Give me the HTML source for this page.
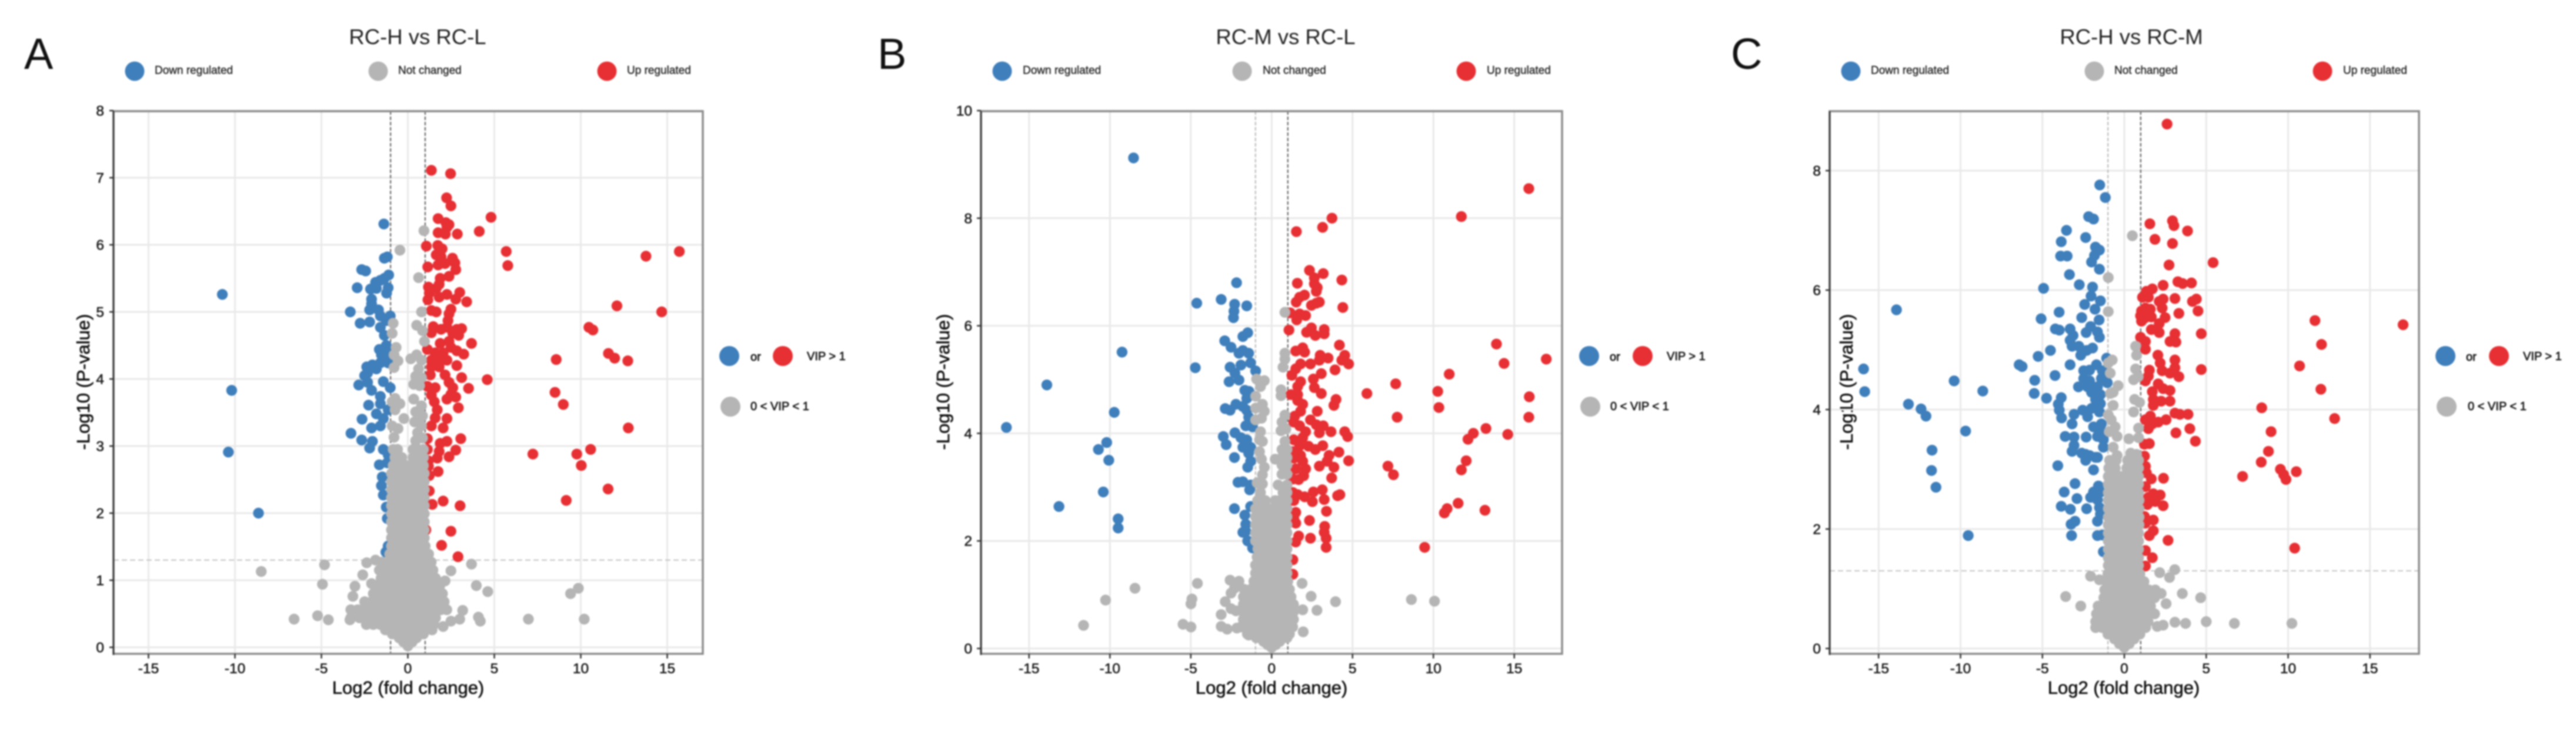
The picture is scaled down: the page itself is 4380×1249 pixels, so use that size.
<!DOCTYPE html>
<html lang="en">
<head>
<meta charset="utf-8">
<title>Volcano plots</title>
<style>
html,body{margin:0;padding:0;background:#fff;width:4380px;height:1249px;overflow:hidden}
svg{display:block;filter:blur(1.4px)}
text{font-family:"Liberation Sans",sans-serif;fill:#1c1c1c}
.t{font-size:36.5px;text-anchor:middle;fill:#222}
.l{font-size:74px;fill:#111}
.k{font-size:19px;stroke:#2a2a2a;stroke-width:.45px;dominant-baseline:central;fill:#2a2a2a}
.r{font-size:20px;stroke:#222;stroke-width:.8px;dominant-baseline:central}
.a{font-size:31px;text-anchor:middle;stroke:#111;stroke-width:.6px;fill:#111}
</style>
</head>
<body>
<svg xmlns="http://www.w3.org/2000/svg" width="4380" height="1249" viewBox="0 0 4380 1249">
<rect width="4380" height="1249" fill="#fff"/>

<g>
<text class="l" x="41" y="117">A</text>
<text class="t" x="710" y="75">RC-H vs RC-L</text>
<circle cx="229" cy="121" r="16.5" fill="#3f7fbb"/>
<text class="k" x="263" y="120">Down regulated</text>
<circle cx="643" cy="121" r="16.5" fill="#b5b5b5"/>
<text class="k" x="677" y="120">Not changed</text>
<circle cx="1032" cy="121" r="16.5" fill="#e63034"/>
<text class="k" x="1066" y="120">Up regulated</text>
<circle cx="1240" cy="605" r="17" fill="#3f7fbb"/>
<text class="r" x="1276" y="607">or</text>
<circle cx="1331" cy="605" r="17" fill="#e63034"/>
<text class="r" x="1372" y="606">VIP &gt; 1</text>
<circle cx="1242" cy="691" r="17" fill="#b5b5b5"/>
<text class="r" x="1276" y="691">0 &lt; VIP &lt; 1</text>
<text class="a" x="694" y="1179">Log2 (fold change)</text>
<text class="a" transform="translate(152,649) rotate(-90)">-Log10 (P-value)</text>
</g>

<g>
<text class="l" x="1492" y="117">B</text>
<text class="t" x="2186" y="75">RC-M vs RC-L</text>
<circle cx="1704" cy="121" r="16.5" fill="#3f7fbb"/>
<text class="k" x="1739" y="120">Down regulated</text>
<circle cx="2112" cy="121" r="16.5" fill="#b5b5b5"/>
<text class="k" x="2147" y="120">Not changed</text>
<circle cx="2493" cy="121" r="16.5" fill="#e63034"/>
<text class="k" x="2528" y="120">Up regulated</text>
<circle cx="2702" cy="605" r="17" fill="#3f7fbb"/>
<text class="r" x="2737" y="607">or</text>
<circle cx="2793" cy="605" r="17" fill="#e63034"/>
<text class="r" x="2834" y="606">VIP &gt; 1</text>
<circle cx="2704" cy="691" r="17" fill="#b5b5b5"/>
<text class="r" x="2738" y="691">0 &lt; VIP &lt; 1</text>
<text class="a" x="2162" y="1179">Log2 (fold change)</text>
<text class="a" transform="translate(1614,649) rotate(-90)">-Log10 (P-value)</text>
</g>

<g>
<text class="l" x="2943" y="117">C</text>
<text class="t" x="3624" y="75">RC-H vs RC-M</text>
<circle cx="3147" cy="121" r="16.5" fill="#3f7fbb"/>
<text class="k" x="3181" y="120">Down regulated</text>
<circle cx="3561" cy="121" r="16.5" fill="#b5b5b5"/>
<text class="k" x="3595" y="120">Not changed</text>
<circle cx="3949" cy="121" r="16.5" fill="#e63034"/>
<text class="k" x="3984" y="120">Up regulated</text>
<circle cx="4158" cy="605" r="17" fill="#3f7fbb"/>
<text class="r" x="4193" y="607">or</text>
<circle cx="4249" cy="605" r="17" fill="#e63034"/>
<text class="r" x="4290" y="606">VIP &gt; 1</text>
<circle cx="4160" cy="691" r="17" fill="#b5b5b5"/>
<text class="r" x="4196" y="691">0 &lt; VIP &lt; 1</text>
<text class="a" x="3611" y="1179">Log2 (fold change)</text>
<text class="a" transform="translate(3150,649) rotate(-90)">-Log10 (P-value)</text>
</g>

<g id="chart-a"></g>
<g id="chart-b"></g>
<g id="chart-c"></g>
</svg>

<script>
// Shared tick labels
const xTickValues = [-15,-10,-5,0,5,10,15];
const yTicksA = [0,1,2,3,4,5,6,7,8];
const yTicksB = [0,2,4,6,8,10];
const yTicksC = [0,2,4,6,8];

// Panel A: [log2FC, -log10 p]
const downA = [[-10.73,5.26],[-10.19,3.83],[-10.38,2.91],[-8.64,2.0],[-1.39,6.31],[-1.19,5.82],[-1.36,5.8],[-2.67,5.63],[-2.44,5.61],[-1.11,5.55],[-1.36,5.5],[-1.59,5.47],[-1.87,5.44],[-2.93,5.36],[-2.16,5.34],[-1.82,5.35],[-1.14,5.36],[-1.23,5.28],[-2.1,5.19],[-2.1,5.12],[-2.21,5.03],[-3.33,5.0],[-1.7,5.03],[-1.59,4.94],[-1.02,4.94],[-2.21,4.85],[-2.76,4.83],[-1.25,4.87],[-1.59,4.77],[-1.36,4.65],[-1.25,4.5],[-1.65,4.44],[-1.14,4.44],[-1.53,4.36],[-1.25,4.33],[-1.14,4.24],[-1.59,4.24],[-2.05,4.21],[-2.38,4.18],[-1.82,4.15],[-2.33,4.09],[-2.5,4.05],[-2.84,3.91],[-2.33,3.95],[-2.1,3.83],[-1.42,3.96],[-1.02,3.87],[-1.59,3.74],[-2.27,3.61],[-1.59,3.63],[-1.82,3.48],[-1.14,3.54],[-2.65,3.4],[-1.42,3.41],[-2.1,3.27],[-1.59,3.3],[-3.29,3.19],[-2.67,3.09],[-2.05,3.07],[-2.21,2.97],[-1.42,2.95],[-1.14,2.87],[-1.65,2.72],[-1.19,2.75],[-1.48,2.54],[-1.53,2.41],[-1.42,2.27],[-1.25,2.09],[-1.19,1.92],[-1.14,1.51],[-1.27,1.42]];
const upA = [[1.36,7.11],[2.47,7.06],[2.24,6.7],[2.49,6.58],[4.81,6.41],[1.75,6.39],[2.2,6.33],[2.38,6.3],[2.26,6.26],[4.13,6.2],[1.75,6.18],[2.17,6.16],[2.86,6.16],[1.07,5.98],[1.73,5.99],[1.98,5.94],[1.64,5.85],[1.92,5.82],[5.69,5.9],[5.78,5.69],[2.58,5.8],[2.72,5.73],[2.77,5.63],[1.15,5.67],[1.75,5.7],[2.15,5.72],[2.38,5.53],[1.87,5.5],[1.81,5.41],[1.19,5.37],[1.64,5.35],[1.24,5.28],[1.81,5.22],[2.26,5.26],[1.16,5.18],[3.0,5.29],[2.77,5.19],[3.4,5.15],[1.36,5.02],[1.64,5.0],[2.49,5.04],[2.38,4.97],[2.32,4.87],[1.47,4.78],[3.11,4.75],[2.83,4.74],[2.26,4.77],[1.92,4.74],[2.6,4.68],[1.36,4.69],[2.94,4.65],[2.38,4.56],[3.68,4.53],[1.87,4.53],[1.13,4.44],[2.49,4.47],[3.23,4.37],[2.83,4.42],[1.58,4.39],[2.04,4.39],[1.36,4.28],[1.81,4.27],[2.26,4.28],[1.36,4.18],[1.81,4.18],[2.83,4.2],[1.3,4.06],[2.15,4.06],[3.11,4.02],[4.59,3.99],[1.13,3.89],[1.58,3.87],[2.38,3.95],[2.6,3.87],[3.51,3.86],[1.36,3.76],[2.49,3.77],[2.77,3.73],[2.26,3.7],[2.92,3.57],[1.53,3.66],[1.7,3.54],[1.58,3.42],[2.26,3.41],[1.36,3.3],[2.04,3.27],[1.13,3.11],[3.06,3.11],[2.26,3.07],[1.87,3.04],[1.13,2.95],[2.77,2.94],[1.81,2.92],[2.38,2.84],[1.7,2.82],[1.19,2.78],[1.19,2.7],[1.75,2.62],[1.24,2.56],[1.24,2.33],[2.04,2.18],[1.41,2.13],[3.02,2.11],[1.04,1.75],[2.49,1.73],[1.95,1.52],[2.9,1.35],[15.7,5.9],[13.77,5.83],[12.09,5.09],[14.68,5.0],[10.47,4.77],[10.7,4.73],[11.6,4.38],[11.96,4.31],[12.72,4.27],[8.58,4.29],[8.51,3.8],[8.99,3.62],[12.75,3.27],[7.23,2.88],[9.77,2.88],[10.57,2.95],[10.03,2.71],[11.58,2.36],[9.16,2.19]];
const grayA = [[-0.46,5.92],[0.93,6.21],[0.62,5.51],[0.79,5.0],[-0.85,4.83],[-0.91,4.68],[0.51,4.8],[0.85,4.72],[0.96,4.56],[-0.68,4.47],[-0.8,4.36],[-0.57,4.27],[-0.8,4.17],[0.17,4.3],[0.51,4.36],[0.79,4.28],[0.62,4.15],[0.45,4.04],[0.34,3.92],[0.79,4.02],[0.68,3.9],[-0.74,3.71],[-0.91,3.66],[-0.46,3.63],[-0.74,3.54],[-0.23,3.41],[0.34,3.7],[0.79,3.6],[0.45,3.51],[0.85,3.45],[0.39,3.36],[0.79,3.3],[-0.91,3.3],[-0.57,3.26],[0.56,3.2],[-0.8,3.13],[0.45,3.08],[0.85,3.12],[-4.82,1.23],[-4.94,0.94],[-6.58,0.42],[-5.22,0.47],[-4.6,0.41],[-3.35,0.41],[3.68,1.24],[3.96,0.92],[4.62,0.83],[6.97,0.42],[9.41,0.8],[9.86,0.88],[10.2,0.42],[2.49,1.14],[2.15,0.99],[3.17,0.55],[3.0,0.42],[2.49,0.39],[2.04,0.31],[4.08,0.45],[4.19,0.39],[-8.48,1.13],[-2.61,1.08],[-2.1,0.95],[-3.06,0.91],[-3.18,0.76],[-2.38,1.26],[-1.87,1.3],[-1.5,1.27]];
// Dense core of panel A, each row: [y, x, x, ...]
const grayCoreA = [
[2.95,-.85,-.6,.3,.6,.9],[2.83,-.75,-.35,.3,.6,.9],[2.71,-.85,-.45,-.1,.3,.65,.9],[2.59,-.95,-.6,-.2,.2,.6,.95],[2.47,-.95,-.6,-.2,.2,.6,.95],[2.35,-.95,-.6,-.2,.2,.6,.95],[2.23,-.95,-.6,-.2,.2,.6,.95],[2.11,-.95,-.6,-.2,.2,.6,.95],[1.99,-.95,-.6,-.2,.2,.6,.95],[1.87,-.95,-.6,-.2,.2,.6,.95],[1.75,-.95,-.6,-.2,.2,.6,.95],[1.63,-.95,-.6,-.2,.2,.6,.95],[1.51,-.95,-.6,-.2,.2,.6,1],[1.39,-1.05,-.65,-.25,.2,.6,1,1.2],[1.27,-1.1,-.7,-.3,.1,.5,.9,1.35],[1.15,-1.65,-1.3,-.9,-.5,-.1,.3,.7,1.1,1.45],[1.03,-1.55,-1.2,-.8,-.4,0,.4,.8,1.2,1.6],[.92,-1.8,-1.4,-1,-.6,-.2,.2,.6,1,1.4,1.85],[.8,-2,-1.6,-1.2,-.8,-.4,0,.4,.8,1.2,1.6,2],[.68,-2.5,-2.1,-1.7,-1.3,-.9,-.5,-.1,.3,.7,1.1,1.5,1.9,2.1],[.56,-3.3,-2.9,-2.5,-2.1,-1.7,-1.3,-.9,-.5,-.1,.3,.7,1.1,1.5,1.9,2.25],[.44,-3.3,-2.8,-2.4,-2,-1.6,-1.2,-.8,-.4,0,.4,.8,1.2,1.6],[.34,-2.4,-2,-1.6,-1.2,-.8,-.4,0,.4,.8,1.2,1.5],[.26,-1.3,-.9,-.5,0,.5,.9,1.4],[.2,-.9,-.5,0,.5,.9],[.14,-.5,-.1,.1,.5],[.08,-.25,.25],[.02,0]];

// Panel B
const downB = [[-8.54,9.12],[-13.9,4.9],[-9.73,4.39],[-16.4,4.11],[-9.25,5.51],[-10.2,3.83],[-10.71,3.7],[-10.07,3.5],[-10.41,2.91],[-13.15,2.64],[-9.49,2.41],[-9.49,2.24],[-2.17,6.8],[-3.12,6.49],[-4.63,6.42],[-1.54,6.37],[-2.29,6.4],[-2.33,6.27],[-2.36,6.15],[-1.48,5.87],[-1.78,5.8],[-2.9,5.72],[-2.51,5.6],[-2.02,5.49],[-1.42,5.49],[-1.78,5.54],[-4.72,5.22],[-2.57,5.23],[-1.9,5.27],[-1.3,5.31],[-0.99,5.16],[-2.27,5.12],[-2.02,4.99],[-2.63,4.96],[-1.66,4.8],[-1.4,4.78],[-1.54,4.65],[-2.21,4.54],[-2.87,4.46],[-2.57,4.43],[-1.78,4.5],[-1.54,4.43],[-1.42,4.3],[-1.6,4.14],[-1.18,4.12],[-2.27,4.01],[-2.99,3.94],[-2.81,3.79],[-1.9,3.92],[-1.54,3.88],[-1.78,3.74],[-1.3,3.74],[-1.42,3.63],[-2.3,3.55],[-1.3,3.48],[-1.48,3.37],[-2.08,3.09],[-1.78,3.1],[-1.3,3.04],[-1.36,2.95],[-2.3,2.6],[-1.3,2.64],[-1.66,2.48],[-1.6,2.31],[-1.6,2.18],[-1.78,2.16],[-1.48,2.0],[-1.18,1.87]];
const upB = [[2.34,7.03],[3.19,6.97],[4.34,6.85],[1.59,6.79],[2.64,6.89],[2.64,6.78],[2.82,6.71],[2.76,6.64],[2.03,6.57],[1.73,6.53],[1.52,6.44],[2.95,6.44],[2.46,6.38],[2.76,6.42],[4.4,6.34],[1.15,6.24],[1.73,6.22],[2.1,6.19],[1.55,6.11],[1.07,5.92],[2.46,5.96],[2.16,5.88],[2.7,5.82],[3.25,5.93],[3.25,5.85],[4.19,5.64],[1.92,5.59],[1.49,5.53],[2.04,5.51],[3.0,5.45],[3.49,5.4],[4.52,5.45],[4.34,5.36],[4.76,5.29],[2.95,5.36],[2.4,5.29],[1.79,5.29],[1.49,5.2],[3.92,5.18],[3.07,5.11],[1.25,5.08],[2.58,5.01],[1.79,4.96],[1.61,4.87],[2.64,4.85],[3.07,4.74],[1.19,4.72],[1.61,4.72],[5.89,4.74],[7.67,4.92],[3.98,4.63],[3.85,4.52],[1.61,4.61],[1.92,4.54],[1.79,4.41],[2.82,4.41],[1.43,4.32],[7.76,4.3],[1.37,4.21],[2.4,4.25],[1.73,4.14],[2.76,4.16],[3.19,4.14],[2.1,4.03],[2.95,4.01],[3.67,4.03],[4.52,4.03],[4.7,3.94],[1.92,3.92],[1.37,3.88],[1.73,3.77],[3.16,3.77],[2.28,3.76],[2.7,3.7],[1.31,3.66],[4.16,3.65],[3.55,3.59],[1.79,3.59],[1.37,3.54],[4.76,3.49],[1.92,3.48],[3.43,3.48],[2.95,3.39],[3.85,3.37],[7.19,3.39],[7.53,3.23],[2.1,3.34],[1.49,3.34],[3.71,3.17],[1.98,3.21],[1.31,3.15],[1.67,3.14],[4.22,2.86],[4.08,2.84],[3.13,2.95],[2.58,2.91],[1.61,2.86],[1.31,2.9],[2.04,2.82],[3.25,2.77],[2.52,2.73],[1.37,2.75],[1.49,2.53],[3.39,2.55],[1.37,2.42],[2.34,2.38],[1.49,2.33],[3.28,2.27],[3.25,2.16],[3.37,2.05],[3.37,1.88],[2.4,2.05],[1.67,2.09],[1.49,1.98],[1.31,1.65],[1.31,1.38],[3.73,8.0],[3.15,7.83],[1.53,7.75],[15.9,8.55],[11.73,8.03],[13.9,5.66],[14.37,5.3],[16.98,5.38],[10.98,5.1],[10.27,4.78],[15.93,4.68],[10.34,4.48],[15.9,4.3],[13.25,4.09],[12.47,4.0],[12.14,3.89],[14.6,3.98],[12.03,3.49],[11.73,3.32],[11.53,2.7],[10.85,2.6],[10.68,2.52],[13.19,2.57],[9.46,1.88]];
const grayB = [[0.82,6.25],[0.82,5.49],[0.82,5.38],[0.7,5.23],[-0.93,5.01],[-0.45,4.98],[-0.69,4.87],[0.58,4.81],[0.58,4.7],[-0.99,4.69],[-0.57,4.54],[-0.99,4.47],[-0.45,4.41],[-0.63,4.28],[-0.99,4.25],[0.82,4.34],[0.64,4.21],[0.58,4.05],[0.88,4.08],[-0.69,4.03],[-0.75,3.88],[-0.57,3.85],[-0.75,3.66],[0.82,3.85],[0.64,3.7],[0.95,3.7],[0.22,3.52],[0.64,3.55],[0.95,3.55],[-0.63,3.52],[-0.45,3.37],[-0.57,3.23],[0.64,3.41],[0.95,3.41],[0.64,3.24],[0.95,3.24],[-0.9,3.08],[-0.57,3.06],[0.4,3.04],[0.95,3.04],[-0.69,2.9],[0.7,2.9],[0.95,2.9],[-2.57,1.27],[-2.02,1.25],[-2.3,1.12],[-2.51,1.03],[-2.87,0.87],[-2.51,0.74],[-3.12,0.63],[-2.2,0.7],[-3.12,0.41],[-2.75,0.36],[-2.15,0.38],[-1.42,0.25],[-4.59,1.21],[-8.45,1.12],[-4.93,0.92],[-4.99,0.83],[-5.48,0.45],[-4.99,0.4],[1.88,1.21],[2.44,0.97],[3.95,0.87],[2.8,0.71],[1.92,0.72],[1.95,0.31],[8.64,0.91],[10.07,0.88],[-10.27,0.9],[-11.63,0.43]];
const grayCoreB = [
[2.75,-.87,-.39,.22,.5,.7,.95],[2.6,-1,-.6,-.2,.2,.6,.95],[2.45,-1,-.6,-.2,.2,.6,.95],[2.3,-1,-.6,-.2,.2,.6,.95],[2.15,-1,-.6,-.2,.2,.6,.95],[2,-1,-.6,-.2,.2,.6,.95],[1.85,-.85,-.5,-.1,.3,.7,.95],[1.7,-.9,-.5,-.1,.3,.7,.95],[1.55,-1,-.6,-.2,.2,.6,.95],[1.4,-1,-.6,-.2,.2,.6,.95],[1.25,-1.1,-.7,-.3,.1,.5,.9,1],[1.1,-1.7,-1.3,-.9,-.5,-.1,.3,.7,1.1],[.96,-1.75,-1.35,-.95,-.55,-.15,.25,.65,1.05,1.2],[.82,-1.75,-1.35,-.95,-.55,-.15,.25,.65,1.05,1.35],[.68,-1.75,-1.35,-.95,-.55,-.15,.25,.65,1.05,1.35],[.54,-1.75,-1.35,-.95,-.55,-.15,.25,.65,1.05,1.35],[.4,-1.9,-1.5,-1.1,-.7,-.3,.1,.5,.9,1.3],[.27,-1.5,-1.1,-.7,-.3,.1,.5,.9,1.1],[.2,-.95,-.55,-.15,.25,.65,.95],[.13,-.5,-.1,.3,.5],[.07,-.25,.25],[.02,0]];

// Panel C
const downC = [[-13.91,5.67],[-15.92,4.68],[-15.85,4.3],[-13.18,4.09],[-12.41,4.01],[-12.11,3.89],[-11.74,3.32],[-11.77,2.98],[-11.5,2.7],[-1.5,7.76],[-1.16,7.55],[-2.18,7.23],[-1.88,7.19],[-3.53,7.0],[-2.36,6.88],[-3.85,6.81],[-1.76,6.72],[-1.52,6.67],[-3.89,6.57],[-3.49,6.57],[-1.82,6.58],[-2.0,6.47],[-1.52,6.35],[-3.35,6.26],[-2.75,6.09],[-4.93,6.03],[-1.94,6.05],[-2.03,5.9],[-1.46,5.82],[-2.42,5.76],[-1.79,5.68],[-3.98,5.63],[-2.6,5.54],[-5.08,5.52],[-1.54,5.5],[-2.06,5.39],[-4.21,5.35],[-3.97,5.33],[-3.31,5.35],[-2.33,5.29],[-1.64,5.3],[-3.13,5.24],[-1.52,5.21],[-3.31,5.16],[-2.78,5.06],[-3.19,5.06],[-1.94,5.03],[-2.3,4.99],[-2.66,4.91],[-4.51,4.99],[-5.26,4.89],[-1.08,4.86],[-6.42,4.75],[-6.24,4.72],[-3.31,4.75],[-1.7,4.75],[-2.48,4.65],[-2.12,4.66],[-1.34,4.65],[-4.23,4.57],[-2.48,4.52],[-1.4,4.52],[-5.47,4.49],[-10.39,4.48],[-1.04,4.45],[-2.12,4.48],[-2.8,4.38],[-8.64,4.31],[-2.24,4.38],[-1.64,4.38],[-5.5,4.27],[-2.0,4.29],[-1.46,4.25],[-4.75,4.19],[-3.85,4.2],[-1.76,4.17],[-4.03,4.09],[-1.46,4.1],[-2.54,3.99],[-3.97,3.99],[-2.0,4.02],[-3.07,3.92],[-1.52,3.96],[-3.83,3.86],[-2.24,3.88],[-3.19,3.76],[-1.88,3.71],[-1.4,3.76],[-1.46,3.66],[-9.69,3.64],[-3.61,3.55],[-3.07,3.54],[-2.33,3.54],[-1.64,3.55],[-1.28,3.5],[-3.07,3.4],[-1.28,3.37],[-3.19,3.3],[-2.6,3.27],[-2.12,3.23],[-1.64,3.2],[-2.36,3.25],[-2.36,3.15],[-1.76,3.2],[-4.06,3.06],[-1.88,2.99],[-3.01,2.76],[-3.67,2.62],[-1.58,2.72],[-1.88,2.62],[-1.46,2.62],[-2.06,2.53],[-2.89,2.51],[-1.64,2.49],[-3.85,2.38],[-3.29,2.33],[-2.3,2.34],[-1.52,2.36],[-1.46,2.25],[-3.01,2.13],[-3.25,2.08],[-1.64,2.13],[-3.22,1.89],[-1.64,1.89],[-1.34,1.9],[-1.28,1.62],[-9.53,1.89]];
const upC = [[1.56,7.11],[2.94,7.16],[3.03,7.08],[3.86,6.99],[1.87,6.85],[2.94,6.78],[2.73,6.42],[5.42,6.46],[3.27,6.14],[3.56,6.11],[4.1,6.12],[2.37,6.08],[1.71,6.02],[1.35,5.98],[1.11,5.88],[1.47,5.88],[2.37,5.85],[2.13,5.81],[3.09,5.86],[4.4,5.85],[4.16,5.81],[2.31,5.7],[1.29,5.7],[1.59,5.68],[1.05,5.65],[4.5,5.65],[3.33,5.61],[1.47,5.6],[0.99,5.57],[2.49,5.54],[1.23,5.53],[1.05,5.48],[1.65,5.55],[2.13,5.44],[1.65,5.34],[2.13,5.29],[3.09,5.27],[4.7,5.27],[0.99,5.21],[3.03,5.17],[1.29,5.14],[2.79,5.14],[3.15,5.13],[1.29,5.01],[2.05,4.91],[2.19,4.78],[3.09,4.83],[4.7,4.67],[1.53,4.66],[3.09,4.7],[2.31,4.65],[2.79,4.61],[3.33,4.55],[1.29,4.48],[1.47,4.56],[2.07,4.43],[2.79,4.32],[1.71,4.3],[2.37,4.35],[1.77,4.17],[2.79,4.14],[2.25,4.14],[1.77,4.07],[3.09,3.94],[3.39,3.92],[3.89,3.92],[1.59,3.89],[2.55,3.83],[1.29,3.83],[2.07,3.79],[1.71,3.76],[1.47,3.68],[4.0,3.68],[3.15,3.61],[4.34,3.47],[1.53,3.43],[1.23,3.42],[1.23,3.22],[1.29,3.05],[1.35,2.94],[1.65,2.84],[2.39,2.85],[1.29,2.71],[1.77,2.59],[2.19,2.57],[1.47,2.53],[1.89,2.46],[2.37,2.39],[1.41,2.41],[1.23,2.21],[1.77,2.15],[1.29,2.1],[1.77,1.97],[1.53,1.89],[2.67,1.81],[1.29,1.64],[1.71,1.52],[1.29,1.38],[2.61,8.78],[17.02,5.42],[11.64,5.49],[12.04,5.09],[10.7,4.73],[12.0,4.34],[12.84,3.85],[8.39,4.03],[8.96,3.63],[8.8,3.3],[8.36,3.12],[9.53,3.0],[9.73,2.91],[9.87,2.83],[10.5,2.96],[7.22,2.88],[10.4,1.68]];
const grayC = [[0.49,6.91],[-0.98,6.21],[-0.98,5.64],[0.69,5.06],[0.75,4.91],[-0.74,4.83],[-0.98,4.78],[-0.86,4.61],[0.69,4.68],[0.57,4.5],[0.85,4.55],[-0.38,4.4],[-0.68,4.29],[-0.85,4.27],[0.63,4.17],[0.93,4.12],[-0.68,4.07],[0.57,3.96],[-0.98,3.91],[-0.8,3.83],[-0.56,3.71],[0.87,3.69],[-0.92,3.63],[-0.44,3.55],[0.28,3.51],[0.87,3.53],[-0.68,3.37],[0.39,3.27],[-0.44,3.23],[0.75,3.25],[-2.06,1.21],[-1.52,1.15],[1.89,0.98],[2.25,0.92],[2.55,0.75],[2.16,1.27],[3.08,1.32],[2.76,1.19],[3.54,0.92],[4.66,0.85],[-3.58,0.87],[-2.66,0.71],[2.01,0.37],[2.37,0.39],[3.09,0.44],[3.74,0.42],[5.0,0.45],[6.72,0.42],[10.23,0.42]];
const grayCoreC = [
[3.15,-.9,-.5,.2,.55,.87],[3.02,-.95,-.55,.15,.5,.87],[2.88,-.98,-.6,-.2,.2,.55,.87],[2.75,-.98,-.6,-.2,.2,.55,.87],[2.61,-.98,-.6,-.2,.2,.55,.87],[2.48,-.98,-.6,-.2,.2,.55,.9],[2.34,-.98,-.6,-.2,.2,.55,.9],[2.2,-.98,-.6,-.2,.2,.55,.9],[2.07,-.98,-.6,-.2,.2,.55,.9],[1.93,-.98,-.6,-.2,.2,.55,.87],[1.8,-.98,-.6,-.2,.2,.55,.87],[1.66,-.98,-.6,-.2,.2,.55,.87],[1.52,-.98,-.6,-.2,.2,.55,.87],[1.39,-.98,-.6,-.2,.2,.55,.87],[1.25,-1,-.6,-.2,.2,.6,.95],[1.12,-1.1,-.7,-.3,.1,.5,.9,1.2],[.98,-1.2,-.8,-.4,0,.4,.8,1.2,1.5],[.85,-1.25,-.85,-.45,-.05,.35,.75,1.15,1.55,1.85],[.71,-1.6,-1.2,-.8,-.4,0,.4,.8,1.2,1.6],[.58,-1.7,-1.3,-.9,-.5,-.1,.3,.7,1.1,1.5,1.85],[.45,-1.75,-1.35,-.95,-.55,-.15,.25,.65,1.05,1.45],[.35,-1.75,-1.35,-.95,-.55,-.15,.25,.65,1.05,1.3],[.24,-1,-.6,-.2,.2,.6,.95],[.16,-.6,-.2,.2,.6],[.08,-.3,.3],[.02,0]];

const panels = [
  {id:'a', x0:693.5, ux:29.4, y0:1100, uy:114, left:193, right:1195, top:189, bottom:1111, yLabelX:177, yTicks:yTicksA, down:downA, up:upA, gray:grayA, core:grayCoreA, leftDash:'#6a6a6a', rightDash:'#6a6a6a', hline:true},
  {id:'b', x0:2162.2, ux:27.5, y0:1102, uy:91.4, left:1668, right:2656, top:189, bottom:1111, yLabelX:1653, yTicks:yTicksB, down:downB, up:upB, gray:grayB, core:grayCoreB, leftDash:'#bdbdbd', rightDash:'#6a6a6a', hline:false},
  {id:'c', x0:3612, ux:27.85, y0:1102, uy:101.5, left:3111, right:4113, top:189, bottom:1111, yLabelX:3096, yTicks:yTicksC, down:downC, up:upC, gray:grayC, core:grayCoreC, leftDash:'#bdbdbd', rightDash:'#6a6a6a', hline:true}
];

const NS = 'http://www.w3.org/2000/svg';
function make(tag, attrs, parent){
  const el = document.createElementNS(NS, tag);
  for (const k in attrs) el.setAttribute(k, attrs[k]);
  parent.appendChild(el);
  return el;
}
function drawPanel(p){
  const root = document.getElementById('chart-' + p.id);
  const sx = v => p.x0 + v * p.ux;
  const sy = v => p.y0 - v * p.uy;

  // gridlines
  const grid = make('g', {}, root);
  
  
  xTickValues.forEach(v => {
    const line = make('line', {x1:sx(v), x2:sx(v), y1:p.top, y2:p.bottom, stroke:'#e9e9e9', 'stroke-width':3}, grid);
    
    
  });
  p.yTicks.forEach(v => {
    const line = make('line', {x1:p.left, x2:p.right, y1:sy(v), y2:sy(v), stroke:'#e9e9e9', 'stroke-width':3}, grid);
    
    
  });

  // threshold lines
  const leftThreshold = make('line', {x1:sx(-1), x2:sx(-1), y1:p.top, y2:p.bottom, stroke:p.leftDash, 'stroke-width':2.2, 'stroke-dasharray':'6 3'}, root);
  
  
  const rightThreshold = make('line', {x1:sx(1), x2:sx(1), y1:p.top, y2:p.bottom, stroke:p.rightDash, 'stroke-width':2.2, 'stroke-dasharray':'6 3'}, root);
  
  
  if (p.hline) {
    const pLine = make('line', {x1:p.left, x2:p.right, y1:sy(1.3), y2:sy(1.3), stroke:'#c4c4c4', 'stroke-width':2, 'stroke-dasharray':'9 5'}, root);
    
    
  }

  // points
  const R = 9.2;
  const downGroup = make('g', {fill:'#3f7fbb'}, root);
  
  
  p.down.forEach(d => {
    const c = make('circle', {cx:sx(d[0]), cy:sy(d[1]), r:R}, downGroup);
    
    
  });
  const upGroup = make('g', {fill:'#e63034'}, root);
  
  
  p.up.forEach(d => {
    const c = make('circle', {cx:sx(d[0]), cy:sy(d[1]), r:R}, upGroup);
    
    
  });
  const grayGroup = make('g', {fill:'#b5b5b5'}, root);
  
  
  p.gray.forEach(d => {
    const c = make('circle', {cx:sx(d[0]), cy:sy(d[1]), r:R}, grayGroup);
    
    
  });
  p.core.forEach(row => {
    row.slice(1).forEach(x => {
      const c = make('circle', {cx:sx(x), cy:sy(row[0]), r:R}, grayGroup);
      
      
    });
  });

  // frame
  const frame = make('rect', {x:p.left, y:p.top, width:p.right-p.left, height:p.bottom-p.top, fill:'none', stroke:'#8c8c8c', 'stroke-width':3.5}, root);
  
  
  const leftAxis = make('line', {x1:p.left, x2:p.left, y1:p.top, y2:p.bottom+2, stroke:'#3c3c3c', 'stroke-width':3}, root);
  
  

  // x axis
  xTickValues.forEach(v => {
    const t = make('line', {x1:sx(v), x2:sx(v), y1:p.bottom, y2:p.bottom+8, stroke:'#333', 'stroke-width':2.5}, root);
    
    
    const lab = make('text', {x:sx(v), y:1144, 'text-anchor':'middle', 'font-size':24.5, stroke:'#1c1c1c', 'stroke-width':.6}, root);
    lab.textContent = String(v);
    
    
  });
  // y axis
  p.yTicks.forEach(v => {
    const t = make('line', {x1:p.left-7, x2:p.left, y1:sy(v), y2:sy(v), stroke:'#333', 'stroke-width':2.5}, root);
    
    
    const lab = make('text', {x:p.yLabelX, y:sy(v)+8.5, 'text-anchor':'end', 'font-size':24.5, stroke:'#1c1c1c', 'stroke-width':.6}, root);
    lab.textContent = String(v);
    
    
  });
}
panels.forEach(drawPanel);
</script>
</body>
</html>
